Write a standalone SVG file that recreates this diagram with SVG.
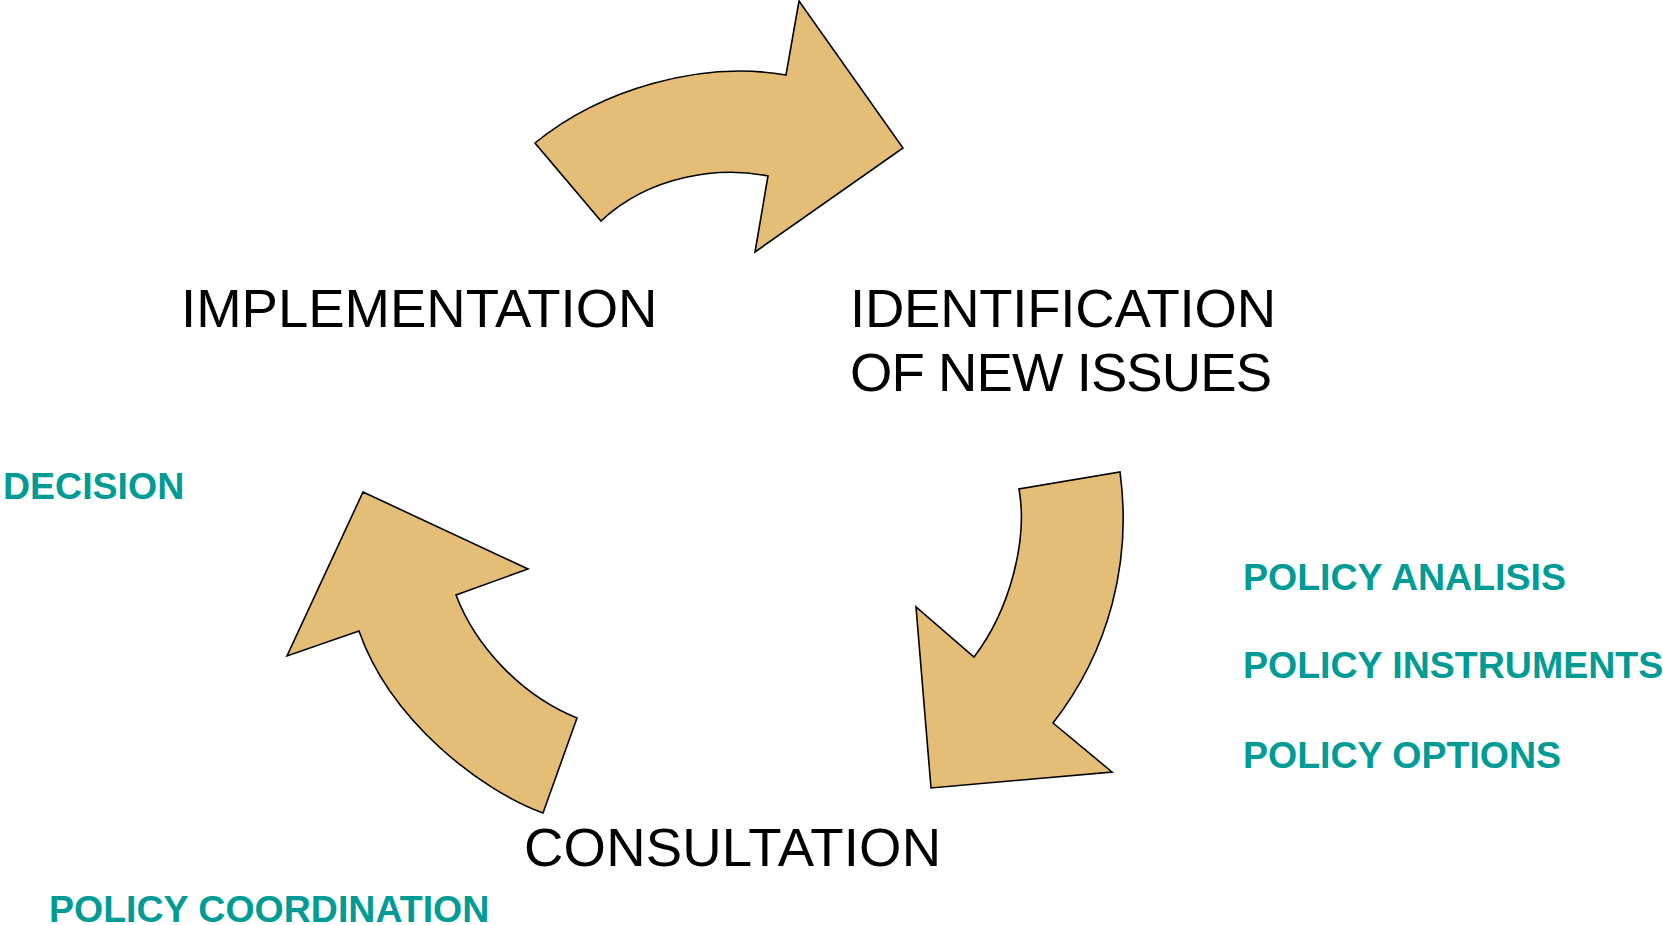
<svg xmlns="http://www.w3.org/2000/svg" width="1663" height="925" viewBox="0 0 1663 925">
<style>
.arrow{fill:#E4BD76;stroke:#000;stroke-width:1.6;stroke-linejoin:miter}
.stage{font-family:"Liberation Sans",Arial,sans-serif;font-size:54.5px;fill:#000}
.note{font-family:"Liberation Sans",Arial,sans-serif;font-size:37.5px;font-weight:bold;fill:#009B95}
</style>
<rect width="1663" height="925" fill="#fff"/>
<g id="connectors">
<path id="arrow-top" class="arrow" d="M535,143 C600,90 700,60 786,75 L799,1 L903,148 L755,252 L768,176 C720,166 650,175 601,221 Z"/>
<path id="arrow-right" class="arrow" d="M1120,472 C1132,560 1110,650 1053,723 L1112,772 L931,788 L916,607 L974,657 C1010,610 1028,540 1019,489 Z"/>
<path id="arrow-left" class="arrow" d="M363,492 L528,569 L456,595 C475,645 520,695 577,718 L543,813 C480,790 390,720 359,631 L287,656 Z"/>
</g>
<g id="node-implementation"><text class="stage" x="181" y="327">IMPLEMENTATION</text></g>
<g id="node-identification"><text class="stage" x="850" y="327" textLength="426" lengthAdjust="spacing">IDENTIFICATION</text><text class="stage" x="850" y="391" textLength="422" lengthAdjust="spacing">OF NEW ISSUES</text></g>
<g id="node-consultation"><text class="stage" x="524" y="866" textLength="417" lengthAdjust="spacing">CONSULTATION</text></g>
<g id="label-decision"><text class="note" x="3" y="499">DECISION</text></g>
<g id="label-analisis"><text class="note" x="1243" y="590">POLICY ANALISIS</text></g>
<g id="label-instruments"><text class="note" x="1243" y="678">POLICY INSTRUMENTS</text></g>
<g id="label-options"><text class="note" x="1243" y="768">POLICY OPTIONS</text></g>
<g id="label-coordination"><text class="note" x="49" y="922">POLICY COORDINATION</text></g>
</svg>
